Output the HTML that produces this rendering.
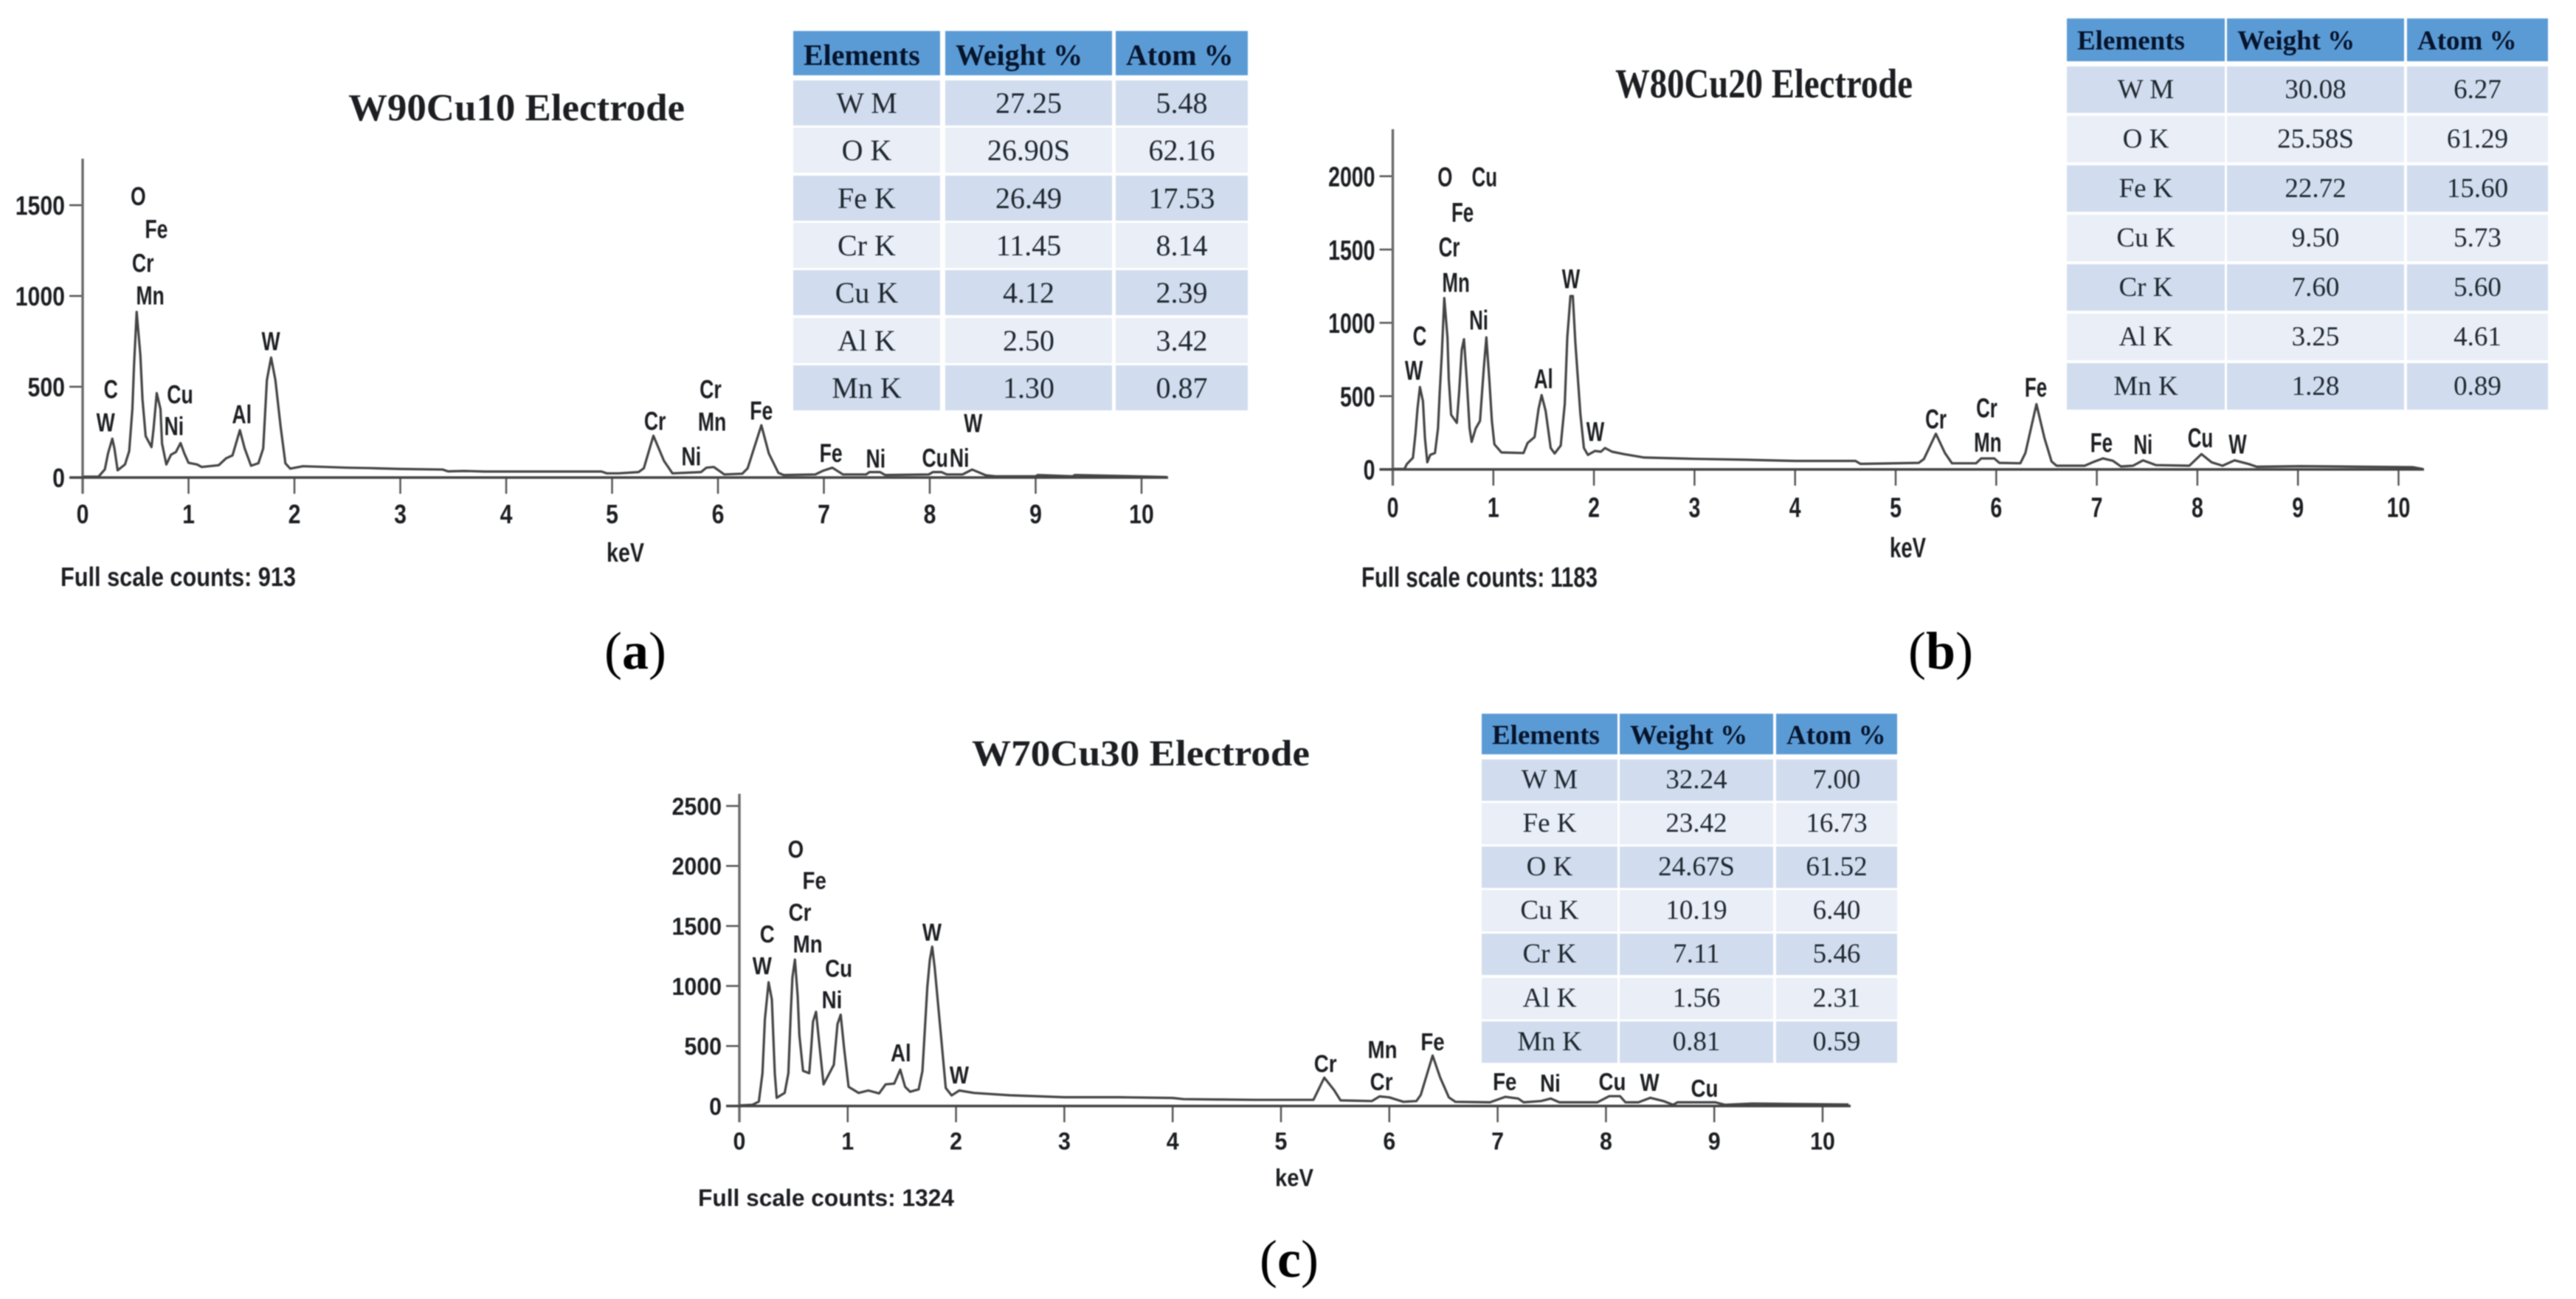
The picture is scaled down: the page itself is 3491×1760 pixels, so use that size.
<!DOCTYPE html>
<html lang="en">
<head>
<meta charset="utf-8">
<title>EDS spectra of W-Cu electrodes</title>
<style>
html,body{margin:0;padding:0;background:#fff;}
#figure{position:relative;width:3491px;height:1760px;overflow:hidden;background:#fff;filter:blur(0.8px);}
#plot{position:absolute;left:0;top:0;}
.cell{position:absolute;box-sizing:border-box;text-align:center;color:#1f2730;font-family:"Liberation Serif",serif;white-space:pre;}
.head{background:#5B9BD5;color:#06142c;font-weight:bold;text-align:left;padding-left:14px;}
.odd{background:#D1DDEE;}
.even{background:#E9EEF7;}
</style>
</head>
<body>
<div id="figure">
<svg id="plot" width="3491" height="1760" viewBox="0 0 3491 1760" xmlns="http://www.w3.org/2000/svg"></svg>
</div>
<script>
/* ---------- Shared ticks ---------- */
const xTickValues = [0,1,2,3,4,5,6,7,8,9,10];

/* ---------- W90Cu10 ---------- */
const w90Energy = [0,0.15,0.21,0.24,0.28,0.30,0.33,0.40,0.44,0.47,0.485,0.51,0.545,0.565,0.595,0.65,0.67,0.70,0.735,0.75,0.79,0.835,0.88,0.925,0.96,1.0,1.08,1.125,1.285,1.355,1.415,1.485,1.53,1.59,1.66,1.705,1.74,1.78,1.82,1.87,1.915,1.96,2.08,2.3,2.5,2.7,3.0,3.4,3.45,3.6,3.8,4.9,4.95,5.06,5.25,5.3,5.39,5.49,5.57,5.84,5.89,5.96,6.06,6.23,6.28,6.41,6.48,6.57,6.62,6.92,6.99,7.08,7.18,7.4,7.43,7.53,7.58,7.99,8.03,8.11,8.16,8.31,8.4,8.53,8.62,9.0,9.02,9.35,9.37,10.24];
const w90Counts = [5,5,45,133,214,160,40,72,146,377,614,912,675,431,228,168,268,465,377,187,72,126,140,190,133,81,72,58,68,106,122,261,160,65,79,160,537,661,537,280,78,49,62,58,54,52,47,44,34,36,33,33,23,23,30,51,230,92,23,30,54,58,17,21,51,288,133,26,14,17,37,54,17,17,30,30,14,17,30,30,17,17,44,12,7,7,14,7,14,3];
const w90YTicks = [0,500,1000,1500];
const w90LabelText = ["O","Fe","Cr","Mn","C","W","Cu","Ni","Al","W","Cr","Cr","Mn","Ni","Fe","Fe","Ni","Cu","Ni","W"];
const w90LabelEnergy = [0.525,0.696,0.569,0.638,0.266,0.217,0.92,0.863,1.503,1.777,5.405,5.93,5.945,5.748,6.41,7.067,7.49,8.05,8.28,8.41];
const w90LabelCounts = [1552,1370,1183,1004,488,305,459,285,350,752,313,488,309,118,371,137,106,110,110,302];
const w90TableRows = [["W M","27.25","5.48"],["O K","26.90S","62.16"],["Fe K","26.49","17.53"],["Cr K","11.45","8.14"],["Cu K","4.12","2.39"],["Al K","2.50","3.42"],["Mn K","1.30","0.87"]];

/* ---------- W80Cu20 ---------- */
const w80Energy = [0,0.116,0.14,0.2,0.226,0.246,0.27,0.30,0.32,0.343,0.373,0.42,0.45,0.466,0.488,0.512,0.544,0.557,0.58,0.637,0.66,0.686,0.708,0.735,0.764,0.784,0.825,0.867,0.906,0.93,0.96,0.985,1.01,1.08,1.30,1.34,1.41,1.45,1.48,1.52,1.57,1.61,1.67,1.71,1.735,1.767,1.79,1.815,1.865,1.90,1.94,2.01,2.07,2.11,2.18,2.3,2.5,3.0,3.5,4.0,4.6,4.65,5.23,5.28,5.40,5.49,5.56,5.8,5.85,5.98,6.03,6.24,6.29,6.40,6.48,6.55,6.6,6.88,6.96,7.06,7.16,7.24,7.36,7.46,7.59,7.92,8.04,8.14,8.25,8.37,8.51,8.59,9.03,10.14,10.24];
const w80Counts = [3,3,37,79,247,414,562,465,213,49,99,112,280,515,792,1169,901,616,372,317,532,817,888,616,280,188,280,331,700,901,616,331,171,116,112,180,221,414,507,398,146,109,163,448,901,1183,1183,867,381,146,99,126,121,146,121,104,81,72,66,58,58,38,45,70,243,112,42,42,75,75,45,42,112,445,213,54,25,25,49,75,59,20,25,62,29,25,104,49,25,62,37,18,22,15,3];
const w80YTicks = [0,500,1000,1500,2000];
const w80LabelText = ["O","Cu","Fe","Cr","Mn","C","W","Ni","Al","W","W","Cr","Cr","Mn","Fe","Fe","Ni","Cu","W"];
const w80LabelEnergy = [0.52,0.912,0.694,0.561,0.628,0.268,0.21,0.855,1.499,1.772,2.014,5.40,5.906,5.916,6.394,7.046,7.46,8.03,8.40];
const w80LabelCounts = [1999,1999,1757,1520,1279,913,680,1022,621,1304,261,347,423,188,564,186,173,218,176];
const w80TableRows = [["W M","30.08","6.27"],["O K","25.58S","61.29"],["Fe K","22.72","15.60"],["Cu K","9.50","5.73"],["Cr K","7.60","5.60"],["Al K","3.25","4.61"],["Mn K","1.28","0.89"]];

/* ---------- W70Cu30 ---------- */
const w70Energy = [0,0.12,0.18,0.213,0.236,0.27,0.30,0.327,0.345,0.418,0.452,0.475,0.49,0.513,0.538,0.554,0.588,0.645,0.663,0.68,0.708,0.736,0.777,0.872,0.906,0.935,0.967,1.008,1.10,1.19,1.29,1.35,1.43,1.485,1.53,1.576,1.655,1.69,1.735,1.758,1.78,1.803,1.86,1.905,1.96,2.03,2.166,2.5,3.0,3.5,4.0,4.1,4.76,5.3,5.40,5.49,5.55,5.84,5.91,6.0,6.13,6.25,6.29,6.40,6.47,6.55,6.61,6.93,7.07,7.19,7.24,7.4,7.49,7.57,7.92,8.03,8.13,8.18,8.3,8.41,8.53,8.62,8.66,9.01,9.1,9.35,10.24];
const w70Counts = [5,10,37,273,724,1031,888,273,68,109,273,785,1072,1220,918,590,293,273,478,703,785,539,180,344,683,761,478,160,109,129,105,180,187,303,160,119,139,293,990,1216,1328,1154,601,150,88,129,109,89,73,73,67,57,51,51,236,133,47,41,80,72,35,41,92,420,236,72,35,31,76,62,31,41,62,31,31,82,82,31,31,68,41,10,31,31,10,20,12];
const w70YTicks = [0,500,1000,1500,2000,2500];
const w70LabelText = ["O","Fe","Cr","Mn","C","W","Cu","Ni","Al","W","W","Cr","Mn","Cr","Fe","Fe","Ni","Cu","W","Cu"];
const w70LabelEnergy = [0.52,0.693,0.559,0.631,0.257,0.21,0.917,0.855,1.491,1.778,2.03,5.41,5.937,5.927,6.40,7.066,7.486,8.058,8.403,8.91];
const w70LabelCounts = [2144,1880,1617,1353,1436,1171,1149,889,446,1451,261,355,473,206,538,206,192,206,200,151];
const w70TableRows = [["W M","32.24","7.00"],["Fe K","23.42","16.73"],["O K","24.67S","61.52"],["Cu K","10.19","6.40"],["Cr K","7.11","5.46"],["Al K","1.56","2.31"],["Mn K","0.81","0.59"]];

const tableHeaders = ["Elements","Weight %","Atom %"];

const NS = "http://www.w3.org/2000/svg";
const svg = document.getElementById("plot");
const figure = document.getElementById("figure");

function addLine(parent, x1, y1, x2, y2, color, width, name) {
  const el = document.createElementNS(NS, "line");
  el.setAttribute("x1", x1);
  el.setAttribute("y1", y1);
  el.setAttribute("x2", x2);
  el.setAttribute("y2", y2);
  el.setAttribute("stroke", color);
  el.setAttribute("stroke-width", width);
  
  
  parent.appendChild(el);
  return el;
}

function addText(parent, str, x, y, size, sx, anchor, name) {
  const el = document.createElementNS(NS, "text");
  el.setAttribute("transform", "translate(" + x + " " + y + ") scale(" + sx + " 1)");
  el.setAttribute("font-family", '"Liberation Sans", sans-serif');
  el.setAttribute("font-weight", "bold");
  el.setAttribute("font-size", size);
  el.setAttribute("fill", "#1c1e22");
  el.setAttribute("text-anchor", anchor);
  
  
  el.textContent = str;
  parent.appendChild(el);
  return el;
}

function addFitted(parent, str, x, y, size, length, family, name) {
  const el = document.createElementNS(NS, "text");
  el.setAttribute("x", x);
  el.setAttribute("y", y);
  el.setAttribute("font-family", family);
  el.setAttribute("font-weight", "bold");
  el.setAttribute("font-size", size);
  el.setAttribute("fill", "#1c1e22");
  el.setAttribute("textLength", length);
  el.setAttribute("lengthAdjust", "spacingAndGlyphs");
  
  
  el.textContent = str;
  parent.appendChild(el);
  return el;
}

function drawPanel(p) {
  const g = document.createElementNS(NS, "g");
  
  
  svg.appendChild(g);

  const xAt = function (kev) { return p.x0 + kev * p.pxPerKev; };
  const yAt = function (count) { return p.y0 - count * p.pxPerCount; };

  addFitted(g, p.title, p.titleX, p.titleY, p.titleSize, p.titleLen, '"Liberation Serif", serif', p.id + '-title');

  p.yTicks.forEach(function (v) {
    addLine(g, xAt(0) - 18, yAt(v), xAt(0), yAt(v), "#555", 2.5, p.id + '-y-tick');
    addText(g, String(v), xAt(0) - 24, yAt(v) + p.tickSize * 0.36, p.tickSize, p.tickSx, "end", p.id + '-y-tick-label');
  });
  xTickValues.forEach(function (v) {
    addLine(g, xAt(v), p.y0, xAt(v), p.y0 + 22, "#555", 2.5, p.id + '-x-tick');
    addText(g, String(v), xAt(v), p.y0 + p.xLabelDy + p.tickSize * 0.36, p.tickSize, p.tickSx, "middle", p.id + '-x-tick-label');
  });

  const path = document.createElementNS(NS, "polyline");
  path.setAttribute("points", p.energy.map(function (e, i) { return xAt(e).toFixed(1) + "," + yAt(p.counts[i]).toFixed(1); }).join(" "));
  path.setAttribute("fill", "none");
  path.setAttribute("stroke", "#444");
  path.setAttribute("stroke-width", "3.2");
  path.setAttribute("stroke-linejoin", "round");
  
  
  g.appendChild(path);

  addLine(g, xAt(0), p.yTop, xAt(0), p.y0 + 22, "#6a6a6a", 3.4, p.id + '-y-axis');
  addLine(g, xAt(0) - 18, p.y0, p.xEnd, p.y0, "#444", 3.6, p.id + '-x-axis');

  p.labelText.forEach(function (t, i) {
    addText(g, t, xAt(p.labelEnergy[i]), yAt(p.labelCounts[i]) + p.labelSize * 0.36, p.labelSize, p.labelSx, "middle", p.id + '-peak-label-' + t.toLowerCase());
  });

  addFitted(g, "keV", p.kevX, p.kevY, p.tickSize, p.kevLen, '"Liberation Sans", sans-serif', p.id + '-x-axis-title');
  addFitted(g, p.fullScale, p.fsX, p.fsY, p.fsSize, p.fsLen, '"Liberation Sans", sans-serif', p.id + '-full-scale-counts');

  const cap = document.createElementNS(NS, "text");
  cap.setAttribute("x", p.capX);
  cap.setAttribute("y", p.capY);
  cap.setAttribute("text-anchor", "middle");
  cap.setAttribute("font-family", '"Liberation Serif", serif');
  cap.setAttribute("font-size", "72");
  cap.setAttribute("fill", "#000");
  
  
  cap.textContent = "(";
  const letter = document.createElementNS(NS, "tspan");
  letter.setAttribute("font-weight", "bold");
  letter.textContent = p.capLetter;
  cap.appendChild(letter);
  cap.appendChild(document.createTextNode(")"));
  g.appendChild(cap);

  drawTable(p);
}

function drawTable(p) {
  const t = p.table;
  tableHeaders.forEach(function (h, c) {
    const el = document.createElement("div");
    el.className = "cell head";
    el.style.left = t.cols[c][0] + "px";
    el.style.width = (t.cols[c][1] - t.cols[c][0]) + "px";
    el.style.top = t.headTop + "px";
    el.style.height = t.headH + "px";
    el.style.lineHeight = (t.headH + 2 * t.headShift) + "px";
    el.style.fontSize = t.font + "px";
    
    
    el.textContent = h;
    figure.appendChild(el);
  });
  p.rows.forEach(function (row, r) {
    row.forEach(function (val, c) {
      const el = document.createElement("div");
      el.className = "cell " + (r % 2 === 0 ? "odd" : "even");
      el.style.left = t.cols[c][0] + "px";
      el.style.width = (t.cols[c][1] - t.cols[c][0]) + "px";
      el.style.top = (t.rowTop + r * t.pitch) + "px";
      el.style.height = t.rowH + "px";
      el.style.lineHeight = t.rowH + "px";
      el.style.fontSize = t.font + "px";
      
      
      el.textContent = val;
      figure.appendChild(el);
    });
  });
}

drawPanel({
  id: "w90cu10", title: "W90Cu10 Electrode", titleX: 472, titleY: 163, titleSize: 52, titleLen: 456,
  x0: 112, y0: 647, pxPerKev: 143.5, pxPerCount: 0.246, yTop: 215, xEnd: 1583, xLabelDy: 49,
  yTicks: w90YTicks, energy: w90Energy, counts: w90Counts,
  labelText: w90LabelText, labelEnergy: w90LabelEnergy, labelCounts: w90LabelCounts,
  tickSize: 36, tickSx: 0.84, labelSize: 35, labelSx: 0.76,
  kevX: 822, kevY: 761, kevLen: 51,
  fullScale: "Full scale counts: 913", fsX: 82, fsY: 794, fsSize: 36, fsLen: 319,
  capX: 861, capY: 906, capLetter: "a",
  rows: w90TableRows,
  table: { cols: [[1075,1274],[1281,1507],[1512,1691]], headTop: 42, headH: 60, headShift: 3, rowTop: 109, rowH: 61, pitch: 64.3, font: 40 }
});

drawPanel({
  id: "w80cu20", title: "W80Cu20 Electrode", titleX: 2189, titleY: 132, titleSize: 56, titleLen: 403,
  x0: 1887.5, y0: 636, pxPerKev: 136.3, pxPerCount: 0.1986, yTop: 175, xEnd: 3285, xLabelDy: 51,
  yTicks: w80YTicks, energy: w80Energy, counts: w80Counts,
  labelText: w80LabelText, labelEnergy: w80LabelEnergy, labelCounts: w80LabelCounts,
  tickSize: 38, tickSx: 0.75, labelSize: 37, labelSx: 0.7,
  kevX: 2561, kevY: 755, kevLen: 49,
  fullScale: "Full scale counts: 1183", fsX: 1845, fsY: 795, fsSize: 38, fsLen: 320,
  capX: 2630, capY: 906, capLetter: "b",
  rows: w80TableRows,
  table: { cols: [[2801,3015],[3018,3258],[3262,3453]], headTop: 25, headH: 58, headShift: 2, rowTop: 89.6, rowH: 63, pitch: 67.06, font: 37 }
});

drawPanel({
  id: "w70cu30", title: "W70Cu30 Electrode", titleX: 1317, titleY: 1037, titleSize: 50, titleLen: 458,
  x0: 1002, y0: 1498.5, pxPerKev: 146.8, pxPerCount: 0.1626, yTop: 1075.5, xEnd: 2508, xLabelDy: 47,
  yTicks: w70YTicks, energy: w70Energy, counts: w70Counts,
  labelText: w70LabelText, labelEnergy: w70LabelEnergy, labelCounts: w70LabelCounts,
  tickSize: 33, tickSx: 0.92, labelSize: 33, labelSx: 0.84,
  kevX: 1728, kevY: 1607, kevLen: 52,
  fullScale: "Full scale counts: 1324", fsX: 946, fsY: 1634, fsSize: 32, fsLen: 347,
  capX: 1747, capY: 1730, capLetter: "c",
  rows: w70TableRows,
  table: { cols: [[2008,2192],[2195,2403],[2407,2571]], headTop: 967, headH: 55, headShift: 2, rowTop: 1029, rowH: 56, pitch: 59.1, font: 37 }
});
</script>
</body>
</html>
